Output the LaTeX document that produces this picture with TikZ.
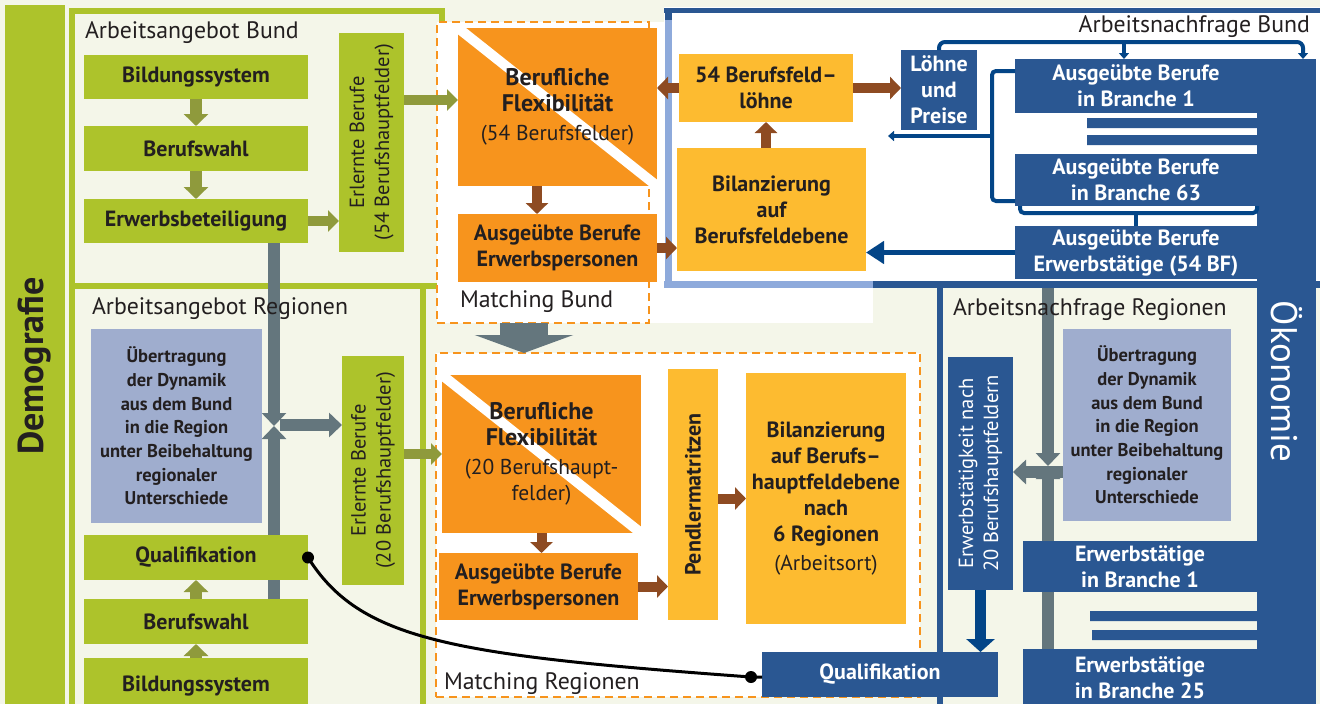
\documentclass[tikz,border=0pt]{standalone}
\usepackage{fontspec}
\setmainfont{PT Sans}
\usepackage{graphicx}
\usetikzlibrary{arrows.meta}
\definecolor{bgc}{HTML}{F4F6E9}
\definecolor{grn}{HTML}{ADC32B}
\definecolor{olv}{HTML}{8F9A3C}
\definecolor{slt}{HTML}{64767D}
\definecolor{lav}{HTML}{9FADCE}
\definecolor{org}{HTML}{F7941D}
\definecolor{ylw}{HTML}{FDBB30}
\definecolor{brn}{HTML}{8E4B22}
\definecolor{blu}{HTML}{2A5792}
\definecolor{dbl}{HTML}{034587}
\definecolor{lbl}{HTML}{8EAADB}
\definecolor{txt}{HTML}{231F20}
\pgfdeclarelayer{bg}
\pgfdeclarelayer{mid}
\pgfsetlayers{bg,mid,main}
\newcommand\bx[6]{\node[#1,minimum width={(#4-#2)*1pt},minimum height={(#5-#3)*1pt}] (#6) at ({(#2+#4)/2},{(#3+#5)/2})}
\newcommand\rtxt[2]{\rotatebox{#1}{\begin{tabular}{@{}c@{}}#2\end{tabular}}}
\newcommand\subf{\mdseries\fontsize{21.5}{27}\selectfont}
\newcommand\bigf{\fontsize{24}{30}\selectfont}
\tikzset{
 box/.style={inner sep=0pt, outer sep=0pt, align=center, text=txt, font=\bfseries\fontsize{22}{26}\selectfont},
 gbox/.style={box, fill=grn},
 obox/.style={box, fill=org},
 flexbox/.style={obox, path picture={\draw[white, line width=10pt] (path picture bounding box.north west) -- (path picture bounding box.south east);}},
 ybox/.style={box, fill=ylw},
 bbox/.style={box, fill=blu, text=white},
 vfont/.style={font=\mdseries\fontsize{20.5}{25}\selectfont},
 lbox/.style={box, fill=lav, font=\bfseries\fontsize{18.5}{23.7}\selectfont},
 gbar/.style={box, fill=grn, font=\bfseries\fontsize{36}{36}\selectfont},
 obar/.style={box, fill=blu, text=white, font=\fontsize{37}{37}\selectfont},
 mbox/.style={inner sep=0pt, outer sep=0pt, draw=org, line width=2pt, dash pattern=on 8pt off 5pt, fill=white},
 ttl/.style={inner sep=0pt, outer sep=0pt, text=txt, font=\fontsize{23.8}{28}\selectfont},
 olvA/.style={draw=olv, line width=12pt, -{Triangle[width=24pt,length=12pt]}},
 olvH/.style={draw=olv, line width=10pt, -{Triangle[width=21pt,length=11pt]}},
 brnA/.style={draw=brn, line width=10pt, -{Triangle[width=22pt,length=11pt]}},
 sltA/.style={draw=slt, line width=12pt, -{Triangle[width=24pt,length=13pt]}},
 bll/.style={draw=dbl, line width=4pt},
 blA/.style={bll, -{Triangle[width=10pt,length=6pt]}},
}
\begin{document}
\begin{tikzpicture}[x=1pt,y=-1pt]
\useasboundingbox (0,0) rectangle (1320,704);
\begin{pgfonlayer}{bg}
\fill[bgc] (0,0) rectangle (1320,704);
\fill[white] (437,22) rectangle (873,323);
\draw[grn, line width=6pt] (72,10.5) rectangle (442,285.5);
\draw[grn, line width=6pt] (72,285.5) -- (72,710) (423,285.5) -- (423,710);
\fill[white] (664,7) rectangle (1320,287);
\draw[blu, line width=5pt] (664,10.5) -- (1320,10.5);
\draw[lbl, line width=7pt] (668,20) -- (668,287) (664,284.5) -- (873,284.5);
\draw[blu, line width=7pt] (668,8) -- (668,20) (873,284.5) -- (1320,284.5);
\draw[blu, line width=6pt] (940,282) -- (940,704);
\end{pgfonlayer}

% dashed matching boxes
\begin{pgfonlayer}{bg}
\bx{mbox}{437}{22}{649}{323}{mb} {};
\bx{mbox}{436}{353}{920}{697}{mr} {};
\end{pgfonlayer}

% side bars
\bx{gbar}{5}{5}{65}{727}{demo} {\rotatebox{90}{Demografie}};
\bx{obar}{1257}{59}{1316}{704}{oek} {\rotatebox{-90}{Ökonomie}};

% titles
\node[ttl, anchor=west] (t1) at (85,33) {Arbeitsangebot Bund};
\node[ttl, anchor=west] (t2) at (92,309) {Arbeitsangebot Regionen};
\node[ttl, anchor=west] (t3) at (460,302) {Matching Bund};
\node[ttl, anchor=west] (t4) at (444,684) {Matching Regionen};
\node[ttl, anchor=east] (t5) at (1310,27) {Arbeitsnachfrage Bund};
\node[ttl, anchor=west] (t6) at (953,310) {Arbeitsnachfrage Regionen};

% Arbeitsangebot Bund
\bx{gbox}{84}{55}{308}{99}{b1} {Bildungssystem};
\bx{gbox}{84}{126}{308}{171}{b2} {Berufswahl};
\bx{gbox}{84}{199}{308}{243}{b3} {Erwerbsbeteiligung};
\bx{gbox,vfont}{339}{33}{404}{252}{erl1} {\rtxt{90}{Erlernte Berufe\\(54 Berufshauptfelder)}};

% Arbeitsangebot Regionen
\bx{lbox}{91}{329}{262}{523}{ueL} {Übertragung\\der Dynamik\\aus dem Bund\\in die Region\\unter Beibehaltung\\regionaler\\Unterschiede};
\bx{gbox}{84}{535}{308}{580}{q1} {Qualifikation};
\bx{gbox}{84}{599}{308}{644}{r2} {Berufswahl};
\bx{gbox}{84}{658}{308}{714}{r1} {Bildungssystem};
\bx{gbox,vfont}{342}{356}{404}{585}{erl2} {\rtxt{90}{Erlernte Berufe\\(20 Berufshauptfelder)}};

% Matching Bund
\bx{flexbox}{458}{28}{657}{186}{flex1} {\bigf Berufliche\\\bigf Flexibilität\\[3pt]\subf(54 Berufsfelder)};
\bx{obox}{458}{214}{657}{282}{aus1} {Ausgeübte Berufe\\Erwerbspersonen};

% Arbeitsnachfrage Bund
\bx{ybox}{679}{54}{853}{122}{lohn} {54 Berufsfeld–\\löhne};
\bx{ybox}{677}{148}{866}{271}{bil1} {Bilanzierung\\auf\\Berufsfeldebene};
\bx{bbox}{901}{50}{977}{130}{lp} {Löhne\\und\\Preise};
\bx{bbox}{1015}{59}{1257}{113}{ab1} {Ausgeübte Berufe\\in Branche 1};
\bx{bbox}{1015}{154}{1257}{206}{ab63} {Ausgeübte Berufe\\in Branche 63};
\bx{bbox}{1015}{226}{1257}{279}{ab54} {Ausgeübte Berufe\\Erwerbstätige (54 BF)};
\fill[blu] (1087,118) rectangle (1257,128) (1087,135) rectangle (1257,145);

% Matching Regionen
\bx{flexbox}{442}{375}{641}{533}{flex2} {\bigf Berufliche\\\bigf Flexibilität\\[3pt]\subf(20 Berufshaupt-\\\subf felder)};
\bx{obox}{439}{553}{638}{620}{aus2} {Ausgeübte Berufe\\Erwerbspersonen};
\bx{ybox}{668}{369}{718}{620}{pend} {\rotatebox{90}{Pendlermatritzen}};
\bx{ybox}{746}{373}{906}{624}{bil2} {\fontsize{22}{27}\selectfont Bilanzierung\\auf Berufs–\\hauptfeldebene\\nach\\6 Regionen\\[3pt]\subf(Arbeitsort)};

% Arbeitsnachfrage Regionen
\bx{bbox,vfont}{948}{357}{1013}{590}{etk} {\rtxt{90}{Erwerbstätigkeit nach\\20 Berufshauptfeldern}};
\bx{lbox}{1063}{329}{1231}{521}{ueR} {Übertragung\\der Dynamik\\aus dem Bund\\in die Region\\unter Beibehaltung\\regionaler\\Unterschiede};
\bx{bbox}{1023}{541}{1257}{592}{eb1} {Erwerbstätige\\in Branche 1};
\bx{bbox}{1023}{649}{1257}{706}{eb25} {Erwerbstätige\\in Branche 25};
\fill[blu] (1090,611) rectangle (1257,621) (1092,630) rectangle (1257,640);
\bx{bbox}{762}{652}{998}{697}{qR} {Qualifikation};

% grey connectors (under boxes)
\begin{pgfonlayer}{mid}
\coordinate (gj) at (274,426);
\coordinate (gjr) at (280,425);
\draw[sltA] (b3.south -| gj) -- (gj);
\draw[sltA] (r2.north -| gj) -- (gj);
\draw[sltA] (gjr) -- (erl2.west |- gjr);
\coordinate (hj) at (1048,466);
\coordinate (hjT) at (1048,288);
\coordinate (hh) at (1063,472);
\draw[sltA] (hjT) -- (hj);
\draw[sltA] (eb25.north -| hj) -- (hj);
\draw[sltA] (hh) -- (etk.east |- hh);
\coordinate (gx) at (524,0);
\draw[slt, line width=48pt, -{Triangle[width=98pt,length=18pt]}] (mb.south -| gx) -- (mr.north -| gx);
\end{pgfonlayer}

% olive arrows
\draw[olvA] (b1.south) -- (b2.north);
\draw[olvA] (b2.south) -- (b3.north);
\draw[olvH] (b3.east) -- (erl1.west |- b3.east);
\coordinate (e1o) at (404,100);
\draw[olvH] (e1o) -- (e1o -| flex1.west);
\draw[olvA] (r1.north) -- (r2.south);
\draw[olvA] (r2.north) -- (q1.south);
\draw[olvH] (erl2.east |- flex2.west) -- (flex2.west);

% brown arrows
\coordinate (bxa) at (537,0);
\draw[brnA] (flex1.south -| bxa) -- (aus1.north -| bxa);
\draw[brnA] (aus1.east) -- (bil1.west |- aus1.east);
\draw[brnA] (lohn.west) -- (flex1.east |- lohn.west);
\draw[brnA] (bil1.north -| lohn.south) -- (lohn.south);
\draw[brnA] (lohn.east) -- (lp.west |- lohn.east);
\draw[brnA] (flex2.south) -- (aus2.north -| flex2.south);
\draw[brnA] (aus2.east) -- (pend.west |- aus2.east);
\draw[brnA] (pend.east |- bil2.west) -- (bil2.west);

% blue connectors
\coordinate (tA) at (1124,42);
\coordinate (tB) at (1303,42);
\draw[blA, rounded corners=6pt] (lp.north) |- (tB) -- (tB |- oek.north);
\draw[blA] (tA) -- (tA |- ab1.north);
\coordinate (lbT) at (992,71);
\coordinate (lbB) at (992,201);
\coordinate (lbM) at (992,136);
\coordinate (lbA) at (888,136);
\draw[bll, rounded corners=4pt] (ab1.west |- lbT) -- (lbT) -- (lbB) -- (ab63.west |- lbB);
\draw[blA] (lbM) -- (lbA);
\coordinate (bb) at (1136,213);
\draw[bll, rounded corners=4pt] ([xshift=5pt]ab63.south west) -- ([xshift=5pt]ab63.south west |- bb) -- (ab63.south east |- bb) -- (ab63.south east);
\draw[bll] (bb) -- (ab54.north);
\draw[dbl, line width=5pt, -{Triangle[width=22pt,length=18pt]}] (ab54.west) -- (bil1.east |- ab54.west);
\draw[dbl, line width=11pt, -{Triangle[width=28pt,length=13pt]}] (etk.south) -- (qR.north -| etk.south);

% black link
\coordinate (qd) at (751,677);
\draw[black, line width=3pt] (q1.east) .. controls (360,640) and (450,655) .. (qd) -- (qR.west |- qd);
\fill[black] (q1.east) circle[radius=6pt];
\fill[black] (qd) circle[radius=6pt];
\end{tikzpicture}
\end{document}
